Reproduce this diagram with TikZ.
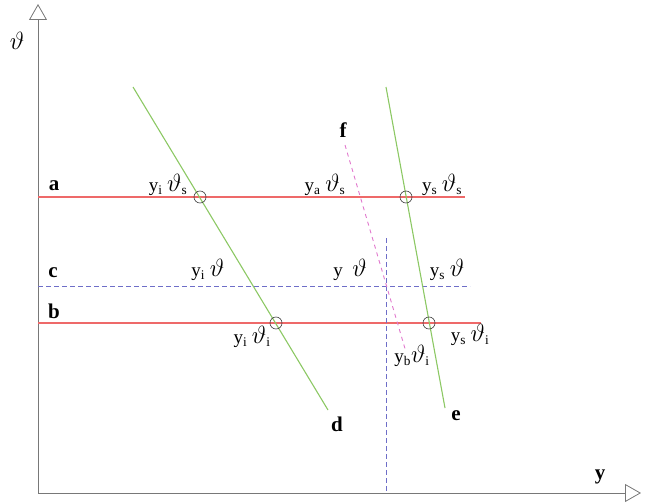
\documentclass[tikz,border=0pt]{standalone}
\usepackage{fontspec}
\setmainfont{Liberation Serif}
\usetikzlibrary{arrows.meta}
\definecolor{myRed}{RGB}{238,105,105}
\definecolor{myGreen}{RGB}{140,200,100}
\definecolor{myBlue}{RGB}{110,110,200}
\definecolor{myPink}{RGB}{225,120,205}
\definecolor{myGray}{RGB}{120,120,120}
\newcommand{\myth}[1]{{\fontsize{24}{26}\selectfont$\vartheta$}\textsubscript{#1}}
\newcommand{\myy}[1]{y\textsubscript{#1}}
\begin{document}
\begin{tikzpicture}[x=1pt,y=-1pt,
  axis/.style={draw=myGray,line width=0.8pt,-{Triangle[open,length=16pt,width=18pt]}},
  redline/.style={draw=myRed,line width=1.1pt},
  greenline/.style={draw=myGreen,line width=1.1pt},
  bluedash/.style={draw=myBlue,line width=0.7pt,dash pattern=on 5pt off 3pt},
  pinkdash/.style={draw=myPink,line width=0.9pt,dash pattern=on 4pt off 4pt},
  mark circ/.style={circle,draw=black!75,line width=0.6pt,minimum size=12pt,inner sep=0pt},
  lbl/.style={font=\fontsize{19}{21}\selectfont,inner sep=0pt},
  letter/.style={font=\fontsize{21}{23}\selectfont\bfseries,inner sep=0pt}]
\useasboundingbox (0,0) rectangle (651,503);
% axes
\coordinate (O) at (38,493);
\coordinate (Ytop) at (38,4);
\coordinate (Xend) at (641,493);
\draw[axis] (O) -- (Ytop);
\draw[axis] (O) -- (Xend);
\node[inner sep=0pt,font=\fontsize{25}{27}\selectfont] (th) at (17,41) {$\vartheta$};
\node[letter] (ylab) at (600,477) {y};
% horizontal lines
\coordinate (a0) at (38,197); \coordinate (a1) at (465,197);
\coordinate (c0) at (38,286); \coordinate (c1) at (470,286);
\coordinate (b0) at (38,323); \coordinate (b1) at (481,323);
\draw[redline] (a0) -- (a1);
\draw[bluedash] (c0) -- (c1);
\draw[redline] (b0) -- (b1);
\node[letter] (la) at (54,186) {a};
\node[letter] (lc) at (53,273) {c};
\node[letter] (lb) at (54,311) {b};
% vertical dashed
\coordinate (v0) at (386,238); \coordinate (v1) at (386,493);
\draw[bluedash] (v0) -- (v1);
% green lines
\coordinate (d0) at (133,87); \coordinate (d1) at (328,410);
\coordinate (e0) at (386,87); \coordinate (e1) at (445,408);
\draw[greenline] (d0) -- (d1);
\draw[greenline] (e0) -- (e1);
\node[letter] (ld) at (337,424) {d};
\node[letter] (le) at (456,416) {e};
% pink dashed
\coordinate (f0) at (345,145); \coordinate (f1) at (406,352);
\draw[pinkdash] (f0) -- (f1);
\node[letter] (lf) at (343,130) {f};
% circles
\node[mark circ] (p1) at (200,197) {};
\node[mark circ] (p2) at (406,197) {};
\node[mark circ] (p3) at (276,323) {};
\node[mark circ] (p4) at (429,323) {};
% labels
\node[lbl] (t1) at (168,185) {\myy{i} \myth{s}};
\node[lbl] (t2) at (325,185) {\myy{a} \myth{s}};
\node[lbl] (t3) at (442,185) {\myy{s} \myth{s}};
\node[lbl] (t4) at (208,270) {\myy{i} \myth{}};
\node[lbl] (t5) at (350,270) {y\ \ {\fontsize{24}{26}\selectfont$\vartheta$}};
\node[lbl] (t6) at (447,270) {\myy{s} {\fontsize{24}{26}\selectfont$\vartheta$}};
\node[lbl] (t7) at (252,337) {\myy{i} \myth{i}};
\node[lbl] (t8) at (412,356) {\myy{b}\myth{i}};
\node[lbl] (t9) at (470,335) {\myy{s} \myth{i}};
\end{tikzpicture}
\end{document}
